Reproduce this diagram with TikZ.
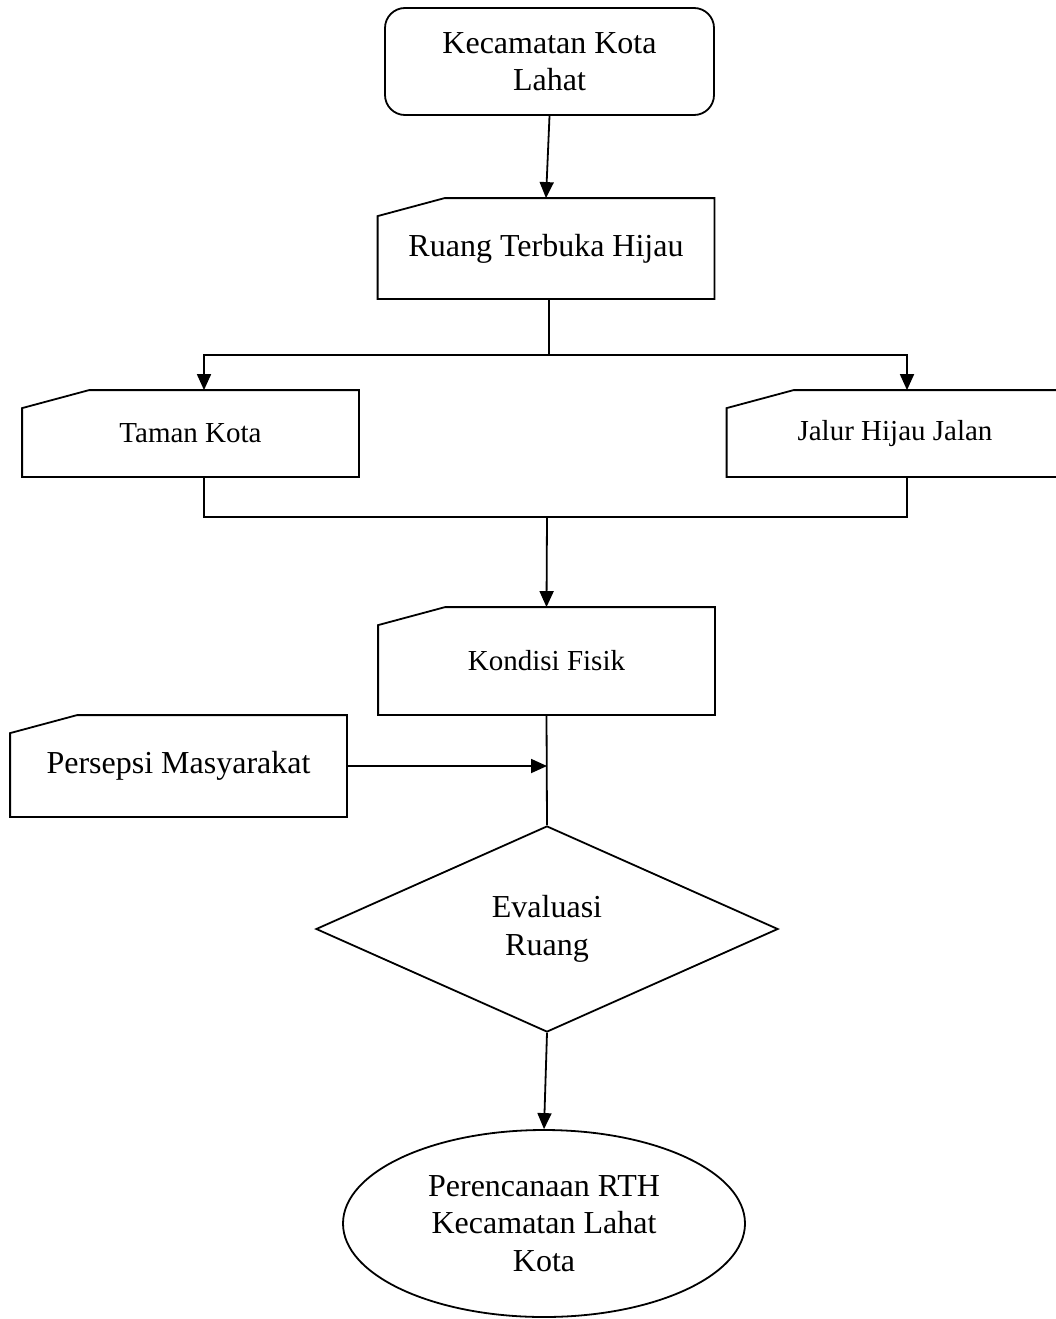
\documentclass[tikz,border=0pt]{standalone}
\usepackage{fontspec}
\setmainfont{Liberation Serif}
\usetikzlibrary{arrows.meta,shapes.geometric}

% outline of a manual-input card drawn round a named node
\newcommand{\inputcard}[1]{%
  \draw (#1.south west) -- ([yshift=-18pt]#1.north west) -- ([xshift=67pt]#1.north west)
    -- (#1.north east) -- (#1.south east) -- cycle;}

\begin{document}
\begin{tikzpicture}[
    x=1pt, y=-1pt, line width=1.8pt,
    bigtext/.style={font=\fontsize{32pt}{37.5pt}\selectfont, align=center},
    smalltext/.style={font=\fontsize{29pt}{34pt}\selectfont, align=center},
    start/.style={draw, rounded corners=20pt, bigtext, minimum width=329pt, minimum height=107pt},
    card/.style={inner sep=0pt, minimum width=335pt},
    decide/.style={draw, diamond, bigtext, inner sep=0pt, minimum width=462pt, minimum height=206pt},
    finish/.style={draw, ellipse, bigtext, inner sep=0pt, minimum width=402pt, minimum height=187pt},
    arr/.style={-{Triangle[length=16pt,width=14pt]}}
]
\useasboundingbox (0,0) rectangle (1056,1319);

% Top
\node[start] (kec) at (549.5, 61.5) {Kecamatan Kota\\Lahat};
\node[card, bigtext, minimum height=99pt] (rth) at (546, 248.5) {Ruang Terbuka Hijau};
\inputcard{rth}
\draw[arr] (kec.south) -- (rth.north);

% Two branches
\node[card, smalltext, minimum height=85pt] (taman) at (190.5, 433.5) {Taman Kota};
\node[card, smalltext, minimum height=85pt] (jalur) at (895, 433.5) {Jalur Hijau Jalan};
\inputcard{taman}
\inputcard{jalur}

\coordinate (split) at (549, 355);
\draw (rth.south -| split) -- (split);
\draw[arr] (split) -| ([xshift=13.5pt]taman.north);
\draw[arr] (split) -| ([xshift=12pt]jalur.north);

% Join
\coordinate (join) at (547, 517);
\draw ([xshift=13.5pt]taman.south) |- (join) -| ([xshift=12pt]jalur.south);

\node[card, smalltext, minimum height=106pt] (fisik) at (546.5, 661) {Kondisi Fisik};
\inputcard{fisik}
\draw[arr] (join) -- (fisik.north);

\node[card, bigtext, minimum height=100pt] (persepsi) at (178.5, 766) {Persepsi Masyarakat};
\inputcard{persepsi}

% Evaluation
\node[decide] (eval) at (547, 929) {Evaluasi\\Ruang};
\draw (fisik.south) -- (eval.north);
\draw[arr] (persepsi.east) -- (persepsi.east -| eval.north);

% Result
\node[finish] (plan) at (544, 1223.5) {Perencanaan RTH\\Kecamatan Lahat\\Kota};
\draw[arr] (eval.south) -- (plan.north);
\end{tikzpicture}
\end{document}
